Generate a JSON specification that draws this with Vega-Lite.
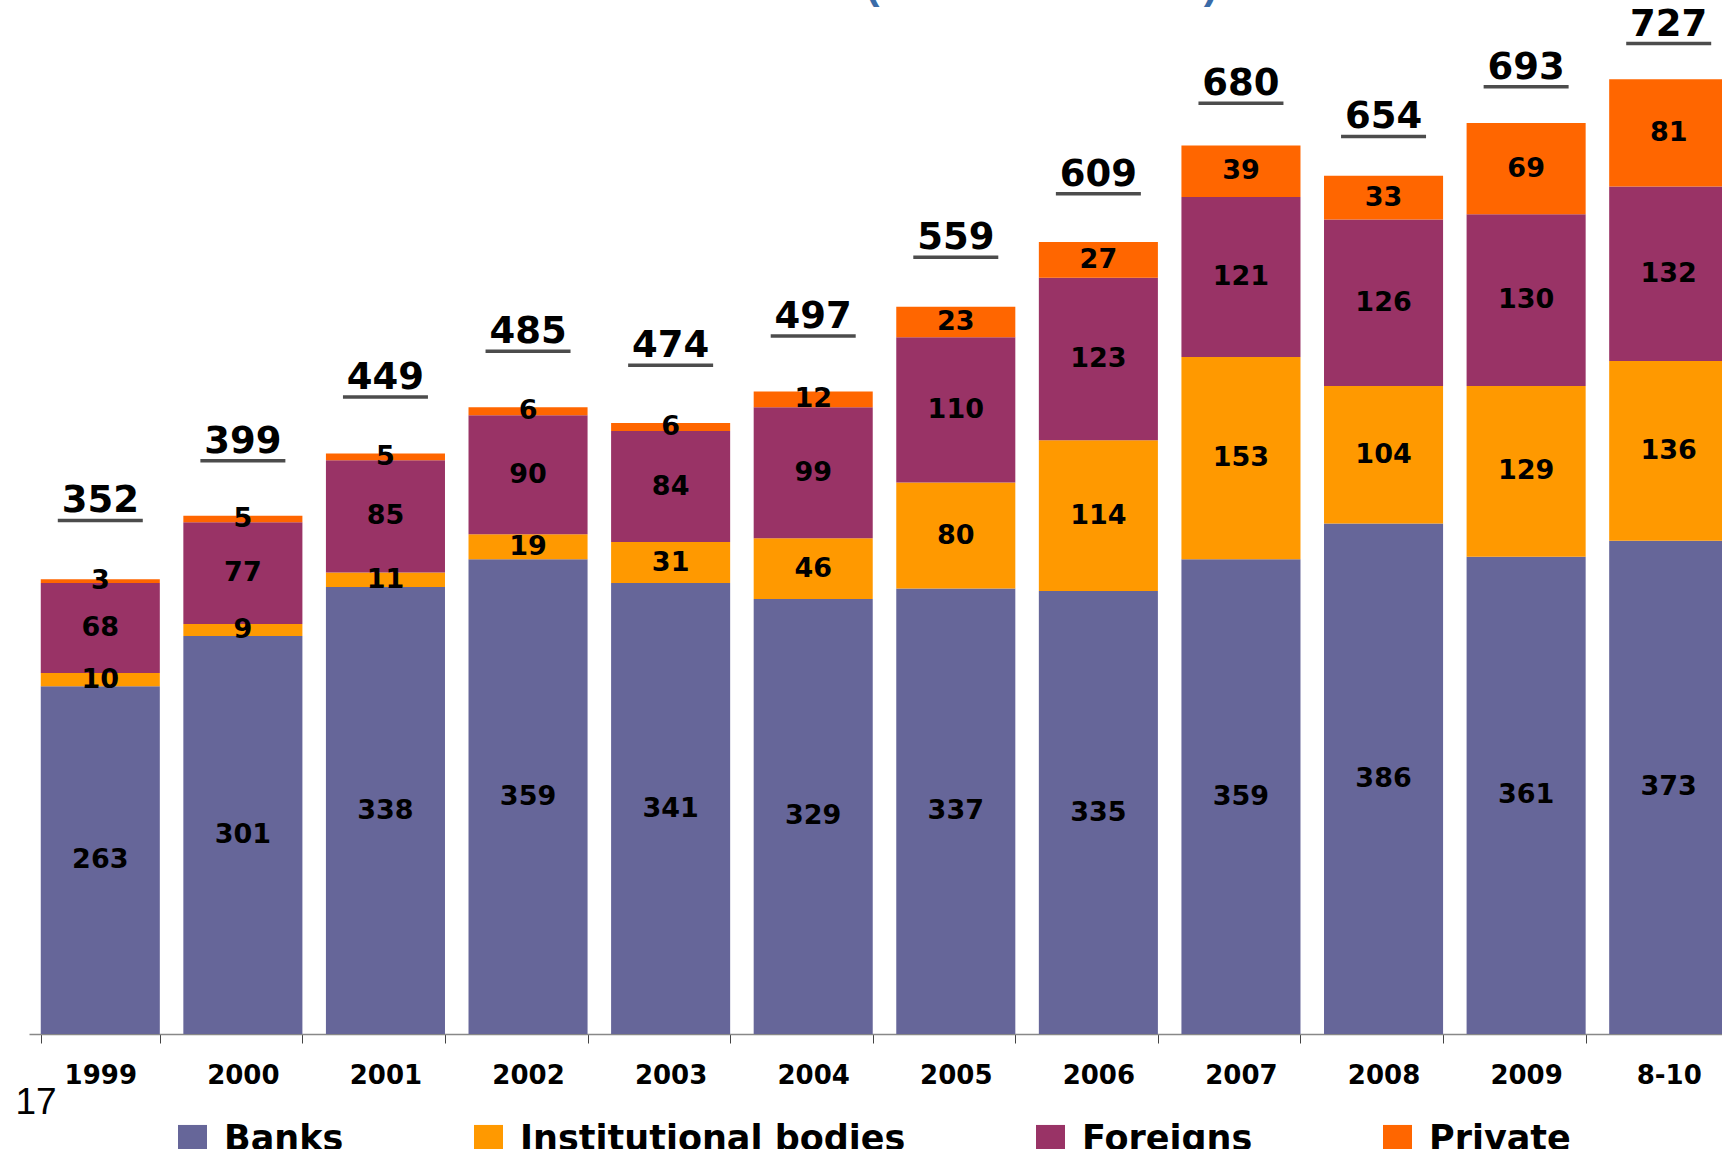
{
  "$schema": "https://vega.github.io/schema/vega-lite/v6.json",
  "width": 1693,
  "height": 1034,
  "autosize": {"type": "none"},
  "padding": {"left": 29, "top": 0, "right": 0, "bottom": 115},
  "background": "white",
  "title": {
    "text": "Debt holders (billions of euros)",
    "font": "Liberation Sans",
    "fontWeight": "bold",
    "fontSize": 42,
    "color": "#3A6BA8",
    "anchor": "middle",
    "baseline": "alphabetic",
    "offset": 0,
    "dx": 32,
    "dy": 40
  },
  "datasets": {
    "parts": [
      {"year": "1999", "series": "Banks", "k": 1, "value": 263},
      {"year": "1999", "series": "Institutional bodies", "k": 2, "value": 10},
      {"year": "1999", "series": "Foreigns", "k": 3, "value": 68},
      {"year": "1999", "series": "Private", "k": 4, "value": 3},
      {"year": "2000", "series": "Banks", "k": 1, "value": 301},
      {"year": "2000", "series": "Institutional bodies", "k": 2, "value": 9},
      {"year": "2000", "series": "Foreigns", "k": 3, "value": 77},
      {"year": "2000", "series": "Private", "k": 4, "value": 5},
      {"year": "2001", "series": "Banks", "k": 1, "value": 338},
      {"year": "2001", "series": "Institutional bodies", "k": 2, "value": 11},
      {"year": "2001", "series": "Foreigns", "k": 3, "value": 85},
      {"year": "2001", "series": "Private", "k": 4, "value": 5},
      {"year": "2002", "series": "Banks", "k": 1, "value": 359},
      {"year": "2002", "series": "Institutional bodies", "k": 2, "value": 19},
      {"year": "2002", "series": "Foreigns", "k": 3, "value": 90},
      {"year": "2002", "series": "Private", "k": 4, "value": 6},
      {"year": "2003", "series": "Banks", "k": 1, "value": 341},
      {"year": "2003", "series": "Institutional bodies", "k": 2, "value": 31},
      {"year": "2003", "series": "Foreigns", "k": 3, "value": 84},
      {"year": "2003", "series": "Private", "k": 4, "value": 6},
      {"year": "2004", "series": "Banks", "k": 1, "value": 329},
      {"year": "2004", "series": "Institutional bodies", "k": 2, "value": 46},
      {"year": "2004", "series": "Foreigns", "k": 3, "value": 99},
      {"year": "2004", "series": "Private", "k": 4, "value": 12},
      {"year": "2005", "series": "Banks", "k": 1, "value": 337},
      {"year": "2005", "series": "Institutional bodies", "k": 2, "value": 80},
      {"year": "2005", "series": "Foreigns", "k": 3, "value": 110},
      {"year": "2005", "series": "Private", "k": 4, "value": 23},
      {"year": "2006", "series": "Banks", "k": 1, "value": 335},
      {"year": "2006", "series": "Institutional bodies", "k": 2, "value": 114},
      {"year": "2006", "series": "Foreigns", "k": 3, "value": 123},
      {"year": "2006", "series": "Private", "k": 4, "value": 27},
      {"year": "2007", "series": "Banks", "k": 1, "value": 359},
      {"year": "2007", "series": "Institutional bodies", "k": 2, "value": 153},
      {"year": "2007", "series": "Foreigns", "k": 3, "value": 121},
      {"year": "2007", "series": "Private", "k": 4, "value": 39},
      {"year": "2008", "series": "Banks", "k": 1, "value": 386},
      {"year": "2008", "series": "Institutional bodies", "k": 2, "value": 104},
      {"year": "2008", "series": "Foreigns", "k": 3, "value": 126},
      {"year": "2008", "series": "Private", "k": 4, "value": 33},
      {"year": "2009", "series": "Banks", "k": 1, "value": 361},
      {"year": "2009", "series": "Institutional bodies", "k": 2, "value": 129},
      {"year": "2009", "series": "Foreigns", "k": 3, "value": 130},
      {"year": "2009", "series": "Private", "k": 4, "value": 69},
      {"year": "8-10", "series": "Banks", "k": 1, "value": 373},
      {"year": "8-10", "series": "Institutional bodies", "k": 2, "value": 136},
      {"year": "8-10", "series": "Foreigns", "k": 3, "value": 132},
      {"year": "8-10", "series": "Private", "k": 4, "value": 81}
    ],
    "totals": [
      {"year": "1999", "total": 352},
      {"year": "2000", "total": 399},
      {"year": "2001", "total": 449},
      {"year": "2002", "total": 485},
      {"year": "2003", "total": 474},
      {"year": "2004", "total": 497},
      {"year": "2005", "total": 559},
      {"year": "2006", "total": 609},
      {"year": "2007", "total": 680},
      {"year": "2008", "total": 654},
      {"year": "2009", "total": 693},
      {"year": "8-10", "total": 727}
    ]
  },
  "encoding": {
    "x": {
      "field": "year",
      "type": "nominal",
      "sort": ["1999", "2000", "2001", "2002", "2003", "2004", "2005", "2006", "2007", "2008", "2009", "8-10"],
      "scale": {"range": [0, 1711], "paddingInner": 0.165, "paddingOuter": 0.0825},
      "axis": {
        "title": "17",
        "titleFont": "Liberation Sans",
        "titleFontWeight": "normal",
        "titleFontSize": 37,
        "titleColor": "black",
        "titleAnchor": "start",
        "titleAlign": "left",
        "titleBaseline": "alphabetic",
        "titleAngle": 0,
        "titleX": -14,
        "titleY": 79,
        "labelAngle": 0,
        "labelFont": "DejaVu Sans",
        "labelFontWeight": "bold",
        "labelFontSize": 26,
        "labelColor": "black",
        "labelBaseline": "alphabetic",
        "labelPadding": 40,
        "domainColor": "#888888",
        "domainWidth": 1.5,
        "tickColor": "#444444",
        "tickWidth": 1,
        "tickSize": 9,
        "tickBand": "extent",
        "grid": false
      }
    }
  },
  "layer": [
    {
      "data": {"name": "parts"},
      "mark": {"type": "bar"},
      "encoding": {
        "y": {"field": "value", "type": "quantitative", "stack": "zero", "scale": {"domain": [0, 782], "nice": false}, "axis": null},
        "color": {
          "field": "series",
          "type": "nominal",
          "scale": {"domain": ["Banks", "Institutional bodies", "Foreigns", "Private"], "range": ["#666699", "#FF9900", "#993366", "#FF6600"]},
          "legend": {
            "orient": "none",
            "legendX": 146,
            "legendY": 1121.7,
            "direction": "horizontal",
            "title": null,
            "padding": 0,
            "symbolType": "square",
            "symbolSize": 841,
            "symbolStrokeWidth": 0,
            "labelFont": "DejaVu Sans",
            "labelFontWeight": "bold",
            "labelFontSize": 35,
            "labelColor": "black",
            "labelOffset": 14,
            "labelLimit": 1000,
            "columnPadding": 127
          }
        },
        "order": {"field": "k", "type": "quantitative"}
      }
    },
    {
      "data": {"name": "parts"},
      "mark": {"type": "text", "font": "DejaVu Sans", "fontWeight": "bold", "fontSize": 27, "color": "black", "baseline": "middle", "align": "center"},
      "encoding": {
        "y": {"field": "value", "type": "quantitative", "stack": "zero", "bandPosition": 0.5, "scale": {"domain": [0, 782], "nice": false}, "axis": null},
        "detail": {"field": "series"},
        "order": {"field": "k", "type": "quantitative"},
        "text": {"field": "value", "type": "quantitative"}
      }
    },
    {
      "data": {"name": "totals"},
      "mark": {"type": "text", "font": "DejaVu Sans", "fontWeight": "bold", "fontSize": 37, "color": "black", "baseline": "alphabetic", "align": "center", "dy": -74},
      "encoding": {
        "y": {"field": "total", "type": "quantitative", "scale": {"domain": [0, 813.2], "nice": false}, "axis": null},
        "text": {"field": "total", "type": "quantitative"}
      }
    },
    {
      "data": {"name": "totals"},
      "mark": {"type": "tick", "size": 85, "thickness": 3.5, "color": "black", "yOffset": -66},
      "encoding": {
        "y": {"field": "total", "type": "quantitative", "scale": {"domain": [0, 813.2], "nice": false}, "axis": null}
      }
    }
  ],
  "resolve": {"scale": {"y": "independent"}},
  "config": {"view": {"stroke": null}}
}
